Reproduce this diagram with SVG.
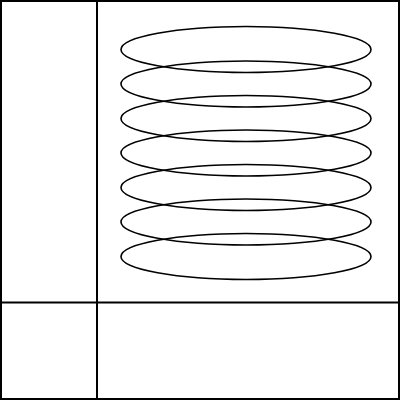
<svg xmlns="http://www.w3.org/2000/svg" width="400" height="400" viewBox="0 0 400 400">
<style>
.l{fill:none;stroke:#000;stroke-width:2}
.e{fill:none;stroke:#000;stroke-width:1.6}
</style>
<rect width="400" height="400" fill="#fff"/>
<g id="frame">
<rect class="l" x="1" y="1" width="398" height="398"/>
<line class="l" x1="97" y1="0" x2="97" y2="400"/>
<line class="l" x1="0" y1="302.5" x2="400" y2="302.5"/>
</g>
<g id="coils">
<ellipse class="e" cx="246" cy="49.5" rx="125" ry="23"/>
<ellipse class="e" cx="246" cy="84" rx="125" ry="23"/>
<ellipse class="e" cx="246" cy="118.5" rx="125" ry="23"/>
<ellipse class="e" cx="246" cy="153" rx="125" ry="23"/>
<ellipse class="e" cx="246" cy="187.5" rx="125" ry="23"/>
<ellipse class="e" cx="246" cy="222" rx="125" ry="23"/>
<ellipse class="e" cx="246" cy="256.5" rx="125" ry="23"/>
</g>
</svg>
